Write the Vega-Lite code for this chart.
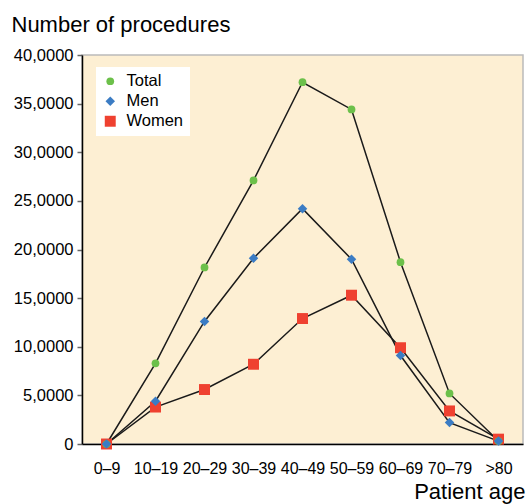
{
  "$schema": "https://vega.github.io/schema/vega-lite/v6.json",
  "width": 441,
  "height": 389,
  "autosize": {"type": "none"},
  "padding": {"left": 82, "top": 55, "right": 4, "bottom": 60},
  "background": "white",
  "config": {
    "font": "Liberation Sans",
    "view": {"fill": "#fdefd3", "stroke": "#bbbbbb", "strokeWidth": 1.5}
  },
  "data": {
    "values": [
      {"series": "Total", "age": "0–9", "value": 0},
      {"series": "Total", "age": "10–19", "value": 8300},
      {"series": "Total", "age": "20–29", "value": 18150},
      {"series": "Total", "age": "30–39", "value": 27100},
      {"series": "Total", "age": "40–49", "value": 37200},
      {"series": "Total", "age": "50–59", "value": 34400},
      {"series": "Total", "age": "60–69", "value": 18700},
      {"series": "Total", "age": "70–79", "value": 5200},
      {"series": "Total", "age": ">80", "value": 300},
      {"series": "Men", "age": "0–9", "value": 0},
      {"series": "Men", "age": "10–19", "value": 4400},
      {"series": "Men", "age": "20–29", "value": 12600},
      {"series": "Men", "age": "30–39", "value": 19100},
      {"series": "Men", "age": "40–49", "value": 24200},
      {"series": "Men", "age": "50–59", "value": 19000},
      {"series": "Men", "age": "60–69", "value": 9100},
      {"series": "Men", "age": "70–79", "value": 2200},
      {"series": "Men", "age": ">80", "value": 300},
      {"series": "Women", "age": "0–9", "value": 0},
      {"series": "Women", "age": "10–19", "value": 3800},
      {"series": "Women", "age": "20–29", "value": 5600},
      {"series": "Women", "age": "30–39", "value": 8200},
      {"series": "Women", "age": "40–49", "value": 12900},
      {"series": "Women", "age": "50–59", "value": 15300},
      {"series": "Women", "age": "60–69", "value": 9900},
      {"series": "Women", "age": "70–79", "value": 3400},
      {"series": "Women", "age": ">80", "value": 500}
    ]
  },
  "encoding": {
    "x": {
      "field": "age",
      "type": "ordinal",
      "sort": ["0–9", "10–19", "20–29", "30–39", "40–49", "50–59", "60–69", "70–79", ">80"],
      "scale": {"type": "point", "padding": 0.5},
      "axis": {
        "title": "Patient age",
        "titleFontSize": 22,
        "titleFontWeight": "normal",
        "titleColor": "black",
        "titleAnchor": "end",
        "titleAlign": "right",
        "titleBaseline": "alphabetic",
        "titleX": 443,
        "titleY": 54,
        "labelAngle": 0,
        "labelFontSize": 16,
        "labelColor": "black",
        "labelPadding": 16,
        "ticks": false,
        "domainColor": "black",
        "domainWidth": 1.5,
        "grid": false
      }
    },
    "y": {
      "field": "value",
      "type": "quantitative",
      "scale": {"domain": [0, 40000]},
      "axis": {
        "title": "Number of procedures",
        "titleFontSize": 22,
        "titleFontWeight": "normal",
        "titleColor": "black",
        "titleAngle": 0,
        "titleAlign": "left",
        "titleBaseline": "alphabetic",
        "titleX": -71,
        "titleY": -24,
        "values": [0, 5000, 10000, 15000, 20000, 25000, 30000, 35000, 40000],
        "labelExpr": "datum.value == 0 ? '0' : (datum.value / 1000) + ',0000'",
        "labelFontSize": 16.5,
        "labelColor": "black",
        "labelPadding": 4,
        "tickSize": 5,
        "tickColor": "#666666",
        "tickWidth": 1.5,
        "domainColor": "black",
        "domainWidth": 1.5,
        "grid": false
      }
    }
  },
  "layer": [
    {
      "mark": {"type": "line", "color": "#1a1a1a", "strokeWidth": 1.5},
      "encoding": {"detail": {"field": "series"}}
    },
    {
      "mark": {"type": "point", "filled": true, "opacity": 1},
      "encoding": {
        "color": {
          "field": "series",
          "type": "nominal",
          "scale": {"domain": ["Total", "Men", "Women"], "range": ["#6cc04a", "#3b7cc4", "#ef4130"]},
          "legend": {
            "title": null,
            "orient": "none",
            "legendX": 14,
            "legendY": 12,
            "fillColor": "white",
            "padding": 6,
            "labelFontSize": 16.5,
            "labelColor": "black",
            "symbolSize": 90,
            "symbolStrokeWidth": 0,
            "rowPadding": 3,
            "labelOffset": 8
          }
        },
        "shape": {
          "field": "series",
          "type": "nominal",
          "scale": {"domain": ["Total", "Men", "Women"], "range": ["circle", "diamond", "square"]}
        },
        "size": {
          "field": "series",
          "type": "nominal",
          "scale": {"domain": ["Total", "Men", "Women"], "range": [60, 120, 100]},
          "legend": null
        },
        "order": {"field": "series", "sort": "descending"}
      }
    }
  ]
}
